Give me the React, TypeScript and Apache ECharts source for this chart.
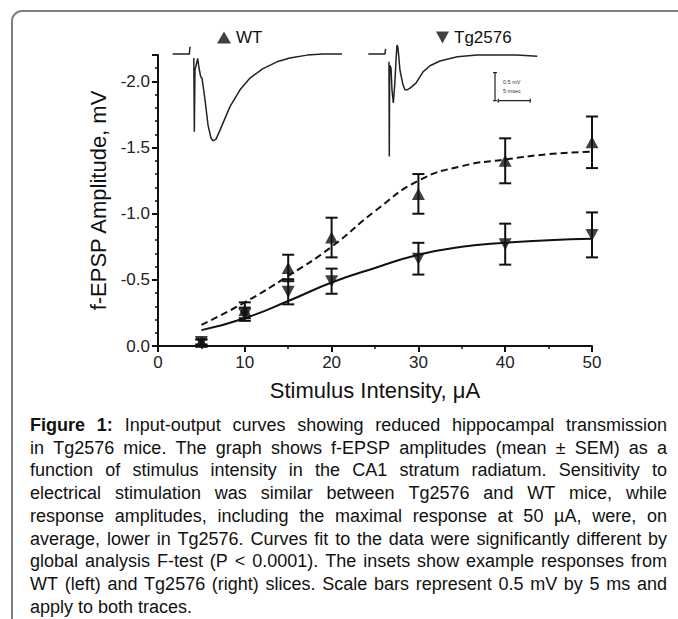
import React, { useEffect, useRef } from 'react';
import * as echarts from 'echarts';

// ---- main data (f-EPSP amplitude, mV; negative as on axis) ----
const stimulus = [5, 10, 15, 20, 30, 40, 50];
const wtMean = [-0.03, -0.27, -0.59, -0.82, -1.15, -1.4, -1.54];
const wtSem = [0.02, 0.06, 0.1, 0.15, 0.15, 0.17, 0.195];
const tgMean = [-0.03, -0.24, -0.41, -0.49, -0.66, -0.77, -0.84];
const tgSem = [0.02, 0.05, 0.095, 0.095, 0.12, 0.155, 0.17];

// fitted curves
const fitX = [5, 10, 15, 20, 25, 30, 35, 40, 45, 50];
const wtFit = [-0.16, -0.33, -0.53, -0.75, -1.02, -1.25, -1.36, -1.41, -1.45, -1.47];
const tgFit = [-0.12, -0.21, -0.34, -0.48, -0.59, -0.69, -0.75, -0.78, -0.8, -0.81];

// axis ticks
const yMajorTicks = [0, -0.5, -1.0, -1.5, -2.0];
const xTickLabels = [0, 10, 20, 30, 40, 50];

// ---- inset traces (time ms, mV) ----
const wtStimT = [0, 2.6, 2.7, 2.7];
const wtStimV = [0, 0, 0, 0.13];
const wtTraceT = [3.3, 3.38, 3.48, 3.91, 4.11, 4.38, 4.58, 5.05, 5.52, 5.98, 6.3, 6.77, 7.39, 8.95, 10.52, 12.08, 14.11, 16.3, 18.3, 21.0, 23.5, 26.45];
const wtTraceV = [-0.07, -1.39, -0.29, -0.08, -0.25, -0.41, -0.43, -0.82, -1.27, -1.5, -1.55, -1.52, -1.36, -0.94, -0.64, -0.43, -0.26, -0.14, -0.07, -0.02, 0, 0];

const tgStimT = [0, 2.6, 2.7, 2.7];
const tgStimV = [0, 0, 0, 0.09];
const tgTraceT = [3.23, 3.28, 3.34, 3.55, 3.7, 3.91, 4.13, 4.33, 4.48, 4.64, 4.95, 5.42, 5.73, 6.05, 6.52, 7.45, 8.55, 9.64, 11.2, 13.9, 17.0, 20.6, 23.2, 26.4];
const tgTraceV = [-0.14, -1.83, -0.2, -0.25, -0.64, -0.875, -0.55, -0.11, 0.16, 0.11, -0.29, -0.55, -0.64, -0.64, -0.61, -0.52, -0.32, -0.21, -0.125, -0.05, -0.02, -0.02, -0.02, -0.04];

// scale bar: 0.5 mV by 5 ms
const scaleBarT0 = 19.8;
const scaleBarV0 = -0.334;
const scaleBarMv = 0.5;
const scaleBarMs = 5;

const captionLines = [
  'Figure 1: Input-output curves showing reduced hippocampal transmission',
  'in Tg2576 mice. The graph shows f-EPSP amplitudes (mean ± SEM) as a',
  'function of stimulus intensity in the CA1 stratum radiatum. Sensitivity to',
  'electrical stimulation was similar between Tg2576 and WT mice, while',
  'response amplitudes, including the maximal response at 50 µA, were, on',
  'average, lower in Tg2576. Curves fit to the data were significantly different by',
  'global analysis F-test (P < 0.0001). The insets show example responses from',
  'WT (left) and Tg2576 (right) slices. Scale bars represent 0.5 mV by 5 ms and',
  'apply to both traces.',
];

const FONT = '"Liberation Sans", Arial, Helvetica, sans-serif';
const INK = '#111';

function zip(a: number[], b: number[]) {
  return a.map((v, i) => [v, b[i]]);
}

function buildCaption(): any[] {
  const canvas = document.createElement('canvas');
  const ctx = canvas.getContext('2d') as CanvasRenderingContext2D;
  const size = 18;
  const L = 30;
  const R = 667;
  const top = 425;
  const lh = 22.7;
  const els: any[] = [];
  captionLines.forEach((line, li) => {
    const words = line.split(' ');
    const bold = words.map((w, wi) => li === 0 && wi < 2);
    const widths = words.map((w, wi) => {
      ctx.font = `${bold[wi] ? 'bold ' : ''}${size}px ${FONT}`;
      return ctx.measureText(w).width;
    });
    ctx.font = `${size}px ${FONT}`;
    const space = ctx.measureText(' ').width;
    const sum = widths.reduce((a, b) => a + b, 0);
    const n = words.length;
    const last = li === captionLines.length - 1;
    let gap = space;
    let k = 1;
    if (!last && n > 1) {
      gap = (R - L - sum) / (n - 1);
      if (gap < space * 0.85) {
        gap = space * 0.85;
        k = (R - L - gap * (n - 1)) / sum;
      }
    }
    let x = L;
    const y = top + li * lh;
    words.forEach((w, wi) => {
      els.push({
        type: 'text',
        x,
        y,
        scaleX: k,
        silent: true,
        style: {
          text: w,
          fill: INK,
          fontSize: size,
          fontFamily: FONT,
          fontWeight: bold[wi] ? 'bold' : 'normal',
          align: 'left',
          verticalAlign: 'middle',
        },
      });
      x += widths[wi] * k + gap;
    });
  });
  return els;
}

function errorBarSeries(name: string, means: number[], sems: number[]) {
  return {
    name: name + ' SEM',
    type: 'custom',
    xAxisIndex: 0,
    yAxisIndex: 0,
    z: 3,
    data: stimulus.map((x, i) => [x, -means[i], sems[i]]),
    encode: { x: 0, y: 1 },
    renderItem: (params: any, api: any) => {
      const x = api.value(0);
      const m = api.value(1);
      const s = api.value(2);
      const t = api.coord([x, m + s]);
      const b = api.coord([x, m - s]);
      const hw = 6;
      const st = { stroke: INK, lineWidth: 2 };
      return {
        type: 'group',
        children: [
          { type: 'line', shape: { x1: t[0], y1: t[1], x2: b[0], y2: b[1] }, style: st },
          { type: 'line', shape: { x1: t[0] - hw, y1: t[1], x2: t[0] + hw, y2: t[1] }, style: st },
          { type: 'line', shape: { x1: b[0] - hw, y1: b[1], x2: b[0] + hw, y2: b[1] }, style: st },
        ],
      };
    },
  };
}

function traceLine(name: string, idx: number, t: number[], v: number[], width = 1.5) {
  return {
    name,
    type: 'line',
    xAxisIndex: idx,
    yAxisIndex: idx,
    data: zip(t, v),
    symbol: 'none',
    smooth: false,
    silent: true,
    lineStyle: { color: '#222', width },
  };
}

export default function App() {
  const ref = useRef<HTMLDivElement>(null);
  useEffect(() => {
    document.body.style.margin = '0';
    if (!ref.current) return;
    const chart = echarts.init(ref.current, undefined, { renderer: 'svg' });
    const axisLine = { show: true, lineStyle: { color: INK, width: 2 } };
    const hiddenAxis = (min: number, max: number, grid: number) => ({
      type: 'value',
      gridIndex: grid,
      min,
      max,
      show: false,
    });
    const capHalfT = 0.3;
    const capHalfV = 0.035;
    const sbTop = scaleBarV0;
    const sbBot = scaleBarV0 - scaleBarMv;
    const sbX1 = scaleBarT0 + 0.5;
    const sbX2 = sbX1 + scaleBarMs;
    const option: any = {
      animation: false,
      backgroundColor: '#fff',
      grid: [
        { left: 158, top: 55, width: 434, height: 291 },
        { left: 172.7, top: 37.2, width: 172.8, height: 123.2 },
        { left: 368.3, top: 37.2, width: 172.8, height: 123.2 },
      ],
      legend: [
        {
          data: [{ name: 'WT', icon: 'triangle' }],
          left: 217,
          top: 29,
          padding: 0,
          itemWidth: 14,
          itemHeight: 12,
          selectedMode: false,
          textStyle: { fontSize: 17, fontFamily: FONT, color: INK },
        },
        {
          data: [{ name: 'Tg2576', icon: 'path://M0,0L12,0L6,11Z' }],
          left: 436,
          top: 29,
          padding: 0,
          itemWidth: 13,
          itemHeight: 12,
          selectedMode: false,
          textStyle: { fontSize: 17, fontFamily: FONT, color: INK },
        },
      ],
      xAxis: [
        {
          type: 'value',
          gridIndex: 0,
          min: 0,
          max: 50,
          interval: 10,
          name: 'Stimulus Intensity, μA',
          nameLocation: 'middle',
          nameGap: 33,
          nameTextStyle: { fontSize: 22, fontFamily: FONT, color: INK },
          axisLine,
          axisTick: { show: true, length: 6, lineStyle: { color: INK, width: 2 } },
          minorTick: { show: true, splitNumber: 2, length: 3, lineStyle: { color: INK, width: 1.5 } },
          axisLabel: {
            fontSize: 17,
            fontFamily: FONT,
            color: '#222',
            margin: 8,
            formatter: (v: number) => (xTickLabels.includes(v) ? String(v) : ''),
          },
          splitLine: { show: false },
        },
        hiddenAxis(0, 27, 1),
        hiddenAxis(0, 27, 2),
      ],
      yAxis: [
        {
          type: 'value',
          gridIndex: 0,
          position: 'left',
          min: 0,
          max: 2.2,
          interval: 0.5,
          name: 'f-EPSP Amplitude, mV',
          nameLocation: 'middle',
          nameRotate: 90,
          nameGap: 47,
          nameTextStyle: { fontSize: 22, fontFamily: FONT, color: INK },
          axisLine,
          axisTick: { show: true, length: 6, lineStyle: { color: INK, width: 2 } },
          minorTick: { show: true, splitNumber: 5, length: 3, lineStyle: { color: INK, width: 1.5 } },
          axisLabel: {
            fontSize: 17,
            fontFamily: FONT,
            color: '#222',
            margin: 8,
            showMaxLabel: false,
            formatter: (v: number) => {
              const val = -v;
              const hit = yMajorTicks.find((t) => Math.abs(t - val) < 1e-6);
              if (hit === undefined) return '';
              return hit === 0 ? '0.0' : hit.toFixed(1);
            },
          },
          splitLine: { show: false },
        },
        hiddenAxis(-1.9, 0.3, 1),
        hiddenAxis(-1.9, 0.3, 2),
      ],
      graphic: [
        {
          type: 'rect',
          silent: true,
          shape: { x: 12, y: 11, width: 760, height: 760, r: [10, 0, 0, 0] },
          style: { fill: 'none', stroke: '#808080', lineWidth: 2 },
        },
        {
          type: 'text',
          x: 503,
          y: 82,
          silent: true,
          style: { text: '0.5 mV', fontSize: 5.5, fontFamily: FONT, fill: '#333', verticalAlign: 'middle' },
        },
        {
          type: 'text',
          x: 503,
          y: 90.5,
          silent: true,
          style: { text: '5 msec', fontSize: 5.5, fontFamily: FONT, fill: '#333', verticalAlign: 'middle' },
        },
        ...buildCaption(),
      ],
      series: [
        {
          name: 'WT fit',
          type: 'line',
          xAxisIndex: 0,
          yAxisIndex: 0,
          data: zip(fitX, wtFit.map((v) => -v)),
          smooth: true,
          symbol: 'none',
          silent: true,
          lineStyle: { color: INK, width: 2, type: [7, 4] },
          z: 2,
        },
        {
          name: 'Tg2576 fit',
          type: 'line',
          xAxisIndex: 0,
          yAxisIndex: 0,
          data: zip(fitX, tgFit.map((v) => -v)),
          smooth: true,
          symbol: 'none',
          silent: true,
          lineStyle: { color: INK, width: 2 },
          z: 2,
        },
        errorBarSeries('WT', wtMean, wtSem),
        errorBarSeries('Tg2576', tgMean, tgSem),
        {
          name: 'WT',
          type: 'scatter',
          xAxisIndex: 0,
          yAxisIndex: 0,
          data: zip(stimulus, wtMean.map((v) => -v)),
          symbol: 'triangle',
          symbolSize: [13, 12],
          itemStyle: { color: INK },
          z: 4,
        },
        {
          name: 'Tg2576',
          type: 'scatter',
          xAxisIndex: 0,
          yAxisIndex: 0,
          data: zip(stimulus, tgMean.map((v) => -v)),
          symbol: 'triangle',
          symbolRotate: 180,
          symbolSize: [13, 12],
          itemStyle: { color: INK },
          z: 4,
        },
        traceLine('WT stim', 1, wtStimT, wtStimV),
        traceLine('WT trace', 1, wtTraceT, wtTraceV),
        traceLine('Tg stim', 2, tgStimT, tgStimV),
        traceLine('Tg trace', 2, tgTraceT, tgTraceV),
        traceLine('scale V', 2, [scaleBarT0, scaleBarT0], [sbTop, sbBot], 1.2),
        traceLine('scale V cap1', 2, [scaleBarT0 - capHalfT, scaleBarT0 + capHalfT], [sbTop, sbTop], 1.2),
        traceLine('scale V cap2', 2, [scaleBarT0 - capHalfT, scaleBarT0 + capHalfT], [sbBot, sbBot], 1.2),
        traceLine('scale H', 2, [sbX1, sbX2], [sbBot, sbBot], 1.2),
        traceLine('scale H cap1', 2, [sbX1, sbX1], [sbBot - capHalfV, sbBot + capHalfV], 1.2),
        traceLine('scale H cap2', 2, [sbX2, sbX2], [sbBot - capHalfV, sbBot + capHalfV], 1.2),
      ],
    };
    chart.setOption(option);
    return () => chart.dispose();
  }, []);
  return <div ref={ref} style={{ width: 678, height: 619 }} />;
}
